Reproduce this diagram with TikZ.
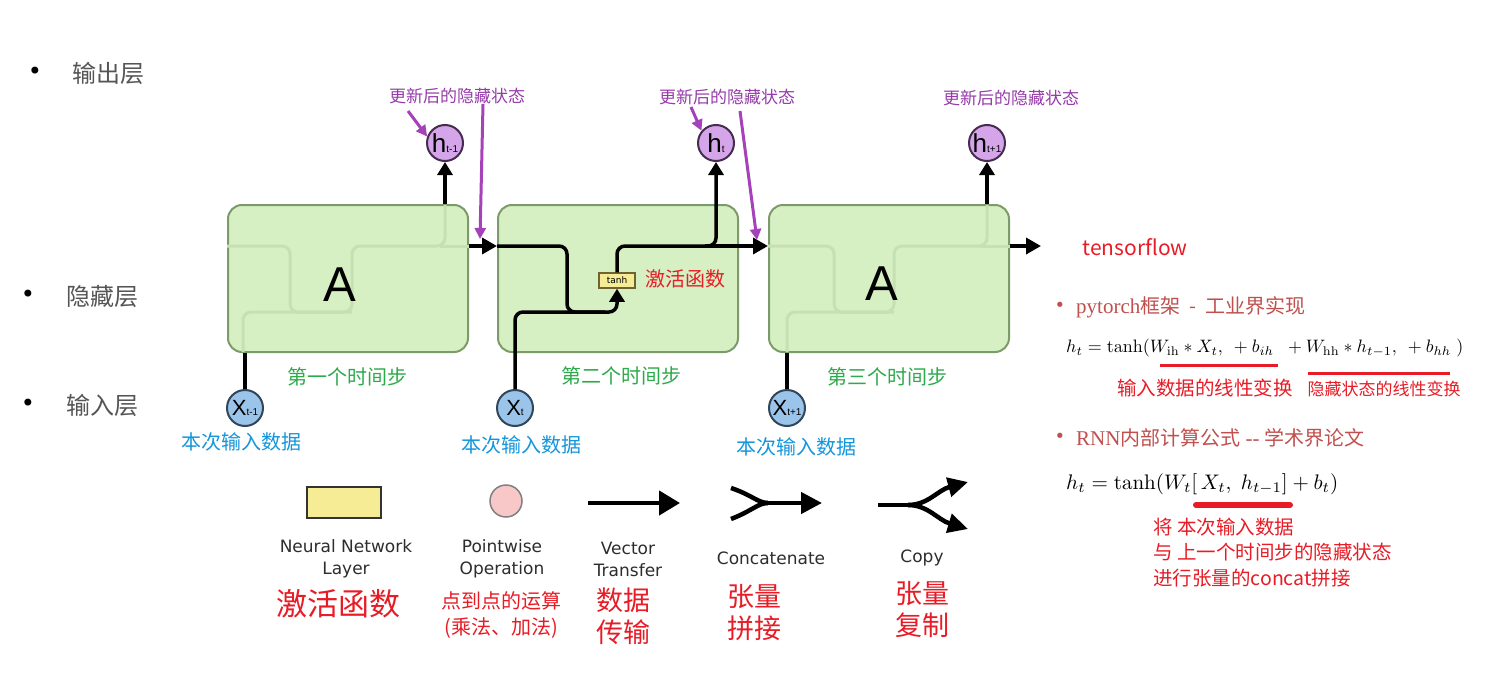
\documentclass[tikz,border=0pt]{standalone}
\usepackage[no-math]{fontspec}
\usepackage{graphicx}
\usetikzlibrary{arrows.meta,calc}
\setmainfont{Noto Sans CJK SC}
\newfontfamily\lsans{Liberation Sans}
\newfontfamily\dsans{DejaVu Sans}
\newfontfamily\lserif{Liberation Serif}
\newcommand\myfs[1]{\fontsize{#1}{#1}\selectfont}
\definecolor{boxfill}{RGB}{214,240,196}
\definecolor{boxborder}{RGB}{125,155,105}
\definecolor{faintc}{RGB}{198,224,180}
\definecolor{hfill}{RGB}{212,165,232}
\definecolor{hborder}{RGB}{70,45,80}
\definecolor{xfill}{RGB}{155,196,235}
\definecolor{xborder}{RGB}{50,70,90}
\definecolor{tanhfill}{RGB}{246,236,150}
\definecolor{tanhborder}{RGB}{110,100,50}
\definecolor{purpt}{RGB}{150,60,170}
\definecolor{purpa}{RGB}{165,65,185}
\definecolor{greent}{RGB}{45,170,75}
\definecolor{bluet}{RGB}{20,150,220}
\definecolor{redt}{RGB}{232,28,38}
\definecolor{brownt}{RGB}{192,80,77}
\definecolor{grayt}{RGB}{85,85,85}
\definecolor{legt}{RGB}{45,45,45}
\definecolor{pinkf}{RGB}{248,200,200}
\begin{document}
\begin{tikzpicture}[x=1pt,y=-1pt,
  cell/.style={draw=boxborder,fill=boxfill,line width=2pt,rounded corners=14pt,minimum width=240pt,minimum height=147pt,inner sep=0pt},
  faint/.style={draw=faintc,line width=3pt,rounded corners=8pt},
  flow/.style={draw=black,line width=3.5pt,line cap=butt},
  uparr/.style={-{Triangle[length=13pt,width=15pt]}},
  midarr/.style={-{Triangle[length=15pt,width=16pt]}},
  hcirc/.style={circle,draw=hborder,fill=hfill,line width=2pt,minimum size=36pt,inner sep=0pt},
  xcirc/.style={circle,draw=xborder,fill=xfill,line width=2pt,minimum size=36pt,inner sep=0pt},
  purlab/.style={text=purpt,font=\myfs{17},inner sep=0pt},
  purarr/.style={draw=purpa,line width=3pt,-{Triangle[length=11pt,width=11pt]}},
  steplab/.style={text=greent,font=\myfs{20},inner sep=0pt},
  inlab/.style={text=bluet,font=\myfs{20},inner sep=0pt},
  layerlab/.style={text=grayt,font=\myfs{24},inner sep=0pt,anchor=west},
  bul/.style={text=black,font=\dsans\myfs{24},inner sep=0pt},
  legline/.style={draw=black,line width=4.5pt},
  legtext/.style={text=legt,font=\dsans\fontsize{17}{22}\selectfont,align=center,inner sep=0pt},
  redbig/.style={text=redt,font=\fontsize{27}{32}\selectfont,align=center,inner sep=0pt},
  redtext/.style={text=redt,font=\myfs{19.5},inner sep=0pt},
  browntext/.style={text=brownt,font=\myfs{20},inner sep=0pt}
]
\useasboundingbox[fill=white] (0,0) rectangle (1491,685);
\coordinate (hl) at (0,246);

% left layer labels
\node[bul] (bu1) at (35,73) {•};
\node[layerlab] (lo) at (72,73) {输出层};
\node[bul] (bu2) at (28,296) {•};
\node[layerlab] (lh) at (66,296) {隐藏层};
\node[bul] (bu3) at (28,405) {•};
\node[layerlab] (li) at (66,405) {输入层};

% cells
\node[cell] (b1) at (348,278.5) {};
\node[cell] (b2) at (618,278.5) {};
\node[cell] (b3) at (889,278.5) {};

% faint internals of box 1
\draw[faint] (b1.west|-hl) -- (290,246) -- (290,312) -- (352,312);
\draw[faint] (243,352) -- (243,312) -- (352,312) -- (352,246) -- (445,246) -- (445,205);
\draw[faint] (440,246) -- (b1.east|-hl);
% faint internals of box 3
\draw[faint] (b3.west|-hl) -- (834,246) -- (834,312) -- (894,312);
\draw[faint] (787,352) -- (787,312) -- (894,312) -- (894,246) -- (987,246) -- (987,205);
\draw[faint] (980,246) -- (b3.east|-hl);

\node[text=black,font=\lsans\myfs{49},inner sep=0pt] (A1) at (340,285) {A};
\node[text=black,font=\lsans\myfs{49},inner sep=0pt] (A3) at (882,284) {A};

% circles
\node[hcirc] (h1) at (445,143) {\lsans\myfs{26}h\myfs{10}t-1};
\node[hcirc] (h2) at (716,143) {\lsans\myfs{26}h\myfs{10}t};
\node[hcirc] (h3) at (987,143) {\lsans\myfs{26}h\myfs{10}t+1};
\node[xcirc] (x1) at (245,408) {\lsans\myfs{22}X\myfs{10}t-1};
\node[xcirc] (x2) at (515,408) {\lsans\myfs{22}X\myfs{10}t};
\node[xcirc] (x3) at (787,408) {\lsans\myfs{22}X\myfs{10}t+1};

% tanh layer
\node[draw=tanhborder,fill=tanhfill,line width=1.5pt,minimum width=36pt,minimum height=15pt,inner sep=0pt,font=\dsans\myfs{9}] (tanh) at (617,280.5) {tanh};

% flows
\draw[flow,uparr] (h1.south|-b1.north) -- (h1.south);
\draw[flow] (x1.north) -- (x1.north|-b1.south);
\draw[flow,midarr] (b1.east|-hl) -- (b2.west|-hl);
\draw[flow,rounded corners=8pt] (b2.west|-hl) -- (567,246) -- (567,312) -- (605,312);
\draw[flow,uparr,rounded corners=8pt] (x2.north) -- (515,312) -- (617,312) -- (tanh.south);
\draw[flow,uparr,rounded corners=8pt] (tanh.north) -- (617,246) -- (716,246) -- (h2.south);
\draw[flow,midarr] (705,246) -- (b3.west|-hl);
\draw[flow,uparr] (h3.south|-b3.north) -- (h3.south);
\draw[flow] (x3.north) -- (x3.north|-b3.south);
\coordinate (out) at (1041,246);
\draw[flow,midarr] (b3.east|-hl) -- (out);

% purple labels and arrows
\node[purlab] (p1) at (457,96) {更新后的隐藏状态};
\node[purlab] (p2) at (727,97) {更新后的隐藏状态};
\node[purlab] (p3) at (1011,98) {更新后的隐藏状态};
\coordinate (pa1) at (408,111);
\coordinate (pa2s) at (483,104);
\coordinate (pa2e) at (480,239);
\coordinate (pa3) at (691,107);
\coordinate (pa4s) at (740,111);
\coordinate (pa4e) at (757,240);
\draw[purarr] (pa1) -- (h1.160);
\draw[purarr] (pa2s) -- (pa2e);
\draw[purarr] (pa3) -- (h2.140);
\draw[purarr] (pa4s) -- (pa4e);

% step labels
\node[steplab] (s1) at (347,377) {第一个时间步};
\node[steplab] (s2) at (621,376) {第二个时间步};
\node[steplab] (s3) at (887,377) {第三个时间步};
\node[inlab] (i1) at (241,442) {本次输入数据};
\node[inlab] (i2) at (521,445) {本次输入数据};
\node[inlab] (i3) at (796,447) {本次输入数据};
\node[redtext,font=\myfs{20}] (act) at (685,279) {激活函数};
\node[redtext,font=\myfs{21}] (tf) at (1135,247) {tensorflow};

% legend
\node[draw=black!80,fill=tanhfill,line width=2pt,minimum width=74pt,minimum height=31pt,inner sep=0pt] (nnl) at (344,502.5) {};
\node[circle,draw=black!50,fill=pinkf,line width=1.5pt,minimum size=32pt,inner sep=0pt] (pw) at (506,501) {};
\coordinate (vt1) at (588,503);
\coordinate (vt2) at (680,503);
\draw[legline,-{Triangle[length=21pt,width=24pt]}] (vt1) -- (vt2);
\coordinate (cc1) at (731,488);
\coordinate (cc2) at (731,519);
\coordinate (ccm) at (768,503);
\coordinate (cce) at (822,503);
\draw[legline] (cc1) .. controls (752,495) and (758,503) .. (ccm);
\draw[legline] (cc2) .. controls (752,511) and (758,503) .. (ccm);
\draw[legline,-{Triangle[length=21pt,width=21pt]}] (ccm) -- (cce);
\coordinate (cp1) at (878,505);
\coordinate (cpm) at (908,505);
\coordinate (cpu) at (968,482);
\coordinate (cpd) at (968,529);
\draw[legline] (cp1) -- (cpm);
\draw[legline,-{Triangle[length=20pt,width=19pt]}] (cpm) .. controls (928,505) and (938,490) .. (cpu);
\draw[legline,-{Triangle[length=20pt,width=19pt]}] (cpm) .. controls (928,505) and (938,520) .. (cpd);

\node[legtext] (t1) at (346,559) {Neural Network\\Layer};
\node[legtext] (t2) at (502,559) {Pointwise\\Operation};
\node[legtext] (t3) at (628,559) {Vector\\Transfer};
\node[legtext] (t4) at (771,558) {Concatenate};
\node[legtext] (t5) at (922,558) {Copy};

\node[redbig,font=\myfs{31}] (r1) at (338,604) {激活函数};
\node[redtext,font=\fontsize{20}{26}\selectfont,align=center] (r2) at (501,615) {点到点的运算\\(乘法、加法)};
\node[redbig] (r3) at (623,616) {数据\\传输};
\node[redbig] (r4) at (754,613) {张量\\拼接};
\node[redbig] (r5) at (922,610) {张量\\复制};

% right side
\node[browntext,font=\dsans\myfs{18}] (rb1) at (1060,307) {•};
\node[browntext,anchor=west] (py) at (1076,307) {{\lserif\myfs{21}pytorch}框架\hspace{9pt}-\hspace{9pt}工业界实现};
\node[anchor=west,inner sep=0pt] (f1) at (1066,348) {\resizebox{397pt}{!}{$h_t = \tanh(W_{\mathrm{ih}} * X_t,\ {} + b_{ih}\;\; + W_{\mathrm{hh}} * h_{t-1},\ {} + b_{hh}\;)$}};
\draw[draw=redt,line width=3pt] (1160,365) -- (1278,365);
\draw[draw=redt,line width=3pt] (1308,373) -- (1450,373);
\node[redtext] (u1) at (1205,388) {输入数据的线性变换};
\node[redtext,font=\myfs{17}] (u2) at (1384,389) {隐藏状态的线性变换};

\node[browntext,font=\dsans\myfs{18}] (rb2) at (1060,438) {•};
\node[browntext,anchor=west] (rnn) at (1076,438) {{\lserif\myfs{21}RNN}内部计算公式\hspace{5pt}{\lserif\myfs{21}-{}-}\hspace{5pt}学术界论文};
\node[anchor=west,inner sep=0pt] (f2) at (1066,484) {\resizebox{272pt}{!}{$h_t = \tanh(W_t[\,X_t,\; h_{t-1}] + b_t)$}};
\draw[draw=redt,line width=6pt,line cap=round] (1196,505) -- (1290,505);
\node[redtext,anchor=west] (c1) at (1153,527) {将 本次输入数据};
\node[redtext,anchor=west] (c2) at (1153,552) {与 上一个时间步的隐藏状态};
\node[redtext,anchor=west] (c3) at (1153,578) {进行张量的concat拼接};
\end{tikzpicture}
\end{document}
